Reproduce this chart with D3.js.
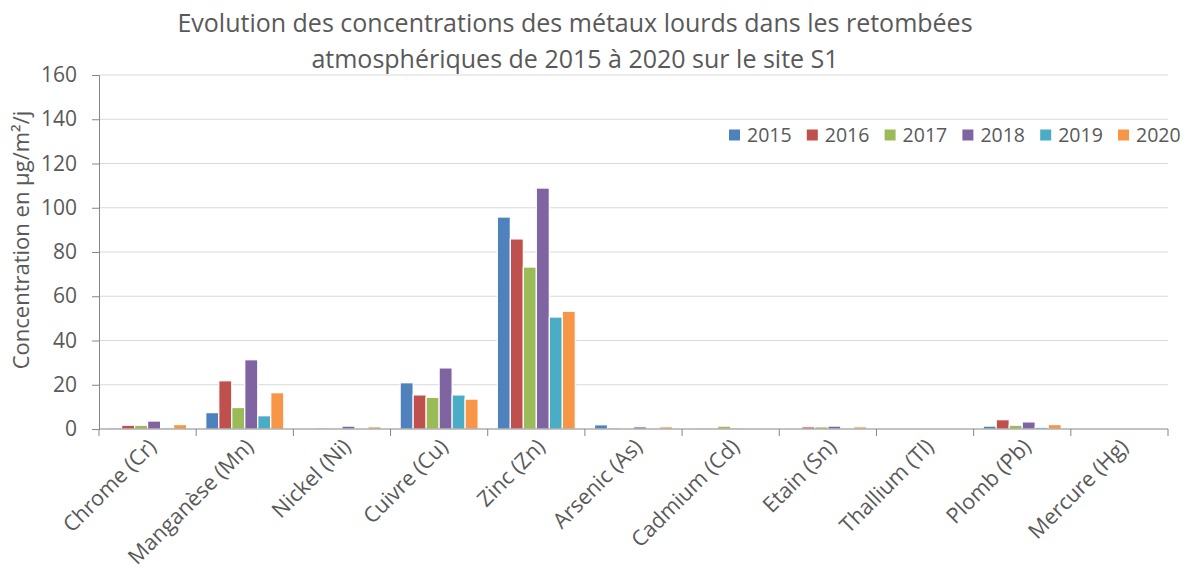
<!DOCTYPE html>
<html>
<head>
<meta charset="utf-8">
<script src="https://cdn.jsdelivr.net/npm/d3@7"></script>
<style>
  body { margin: 0; background: #fff; }
  svg { font-family: "Open Sans", Lato, sans-serif; }
</style>
</head>
<body>
<svg id="chart"></svg>
<script>
const metals = ["Chrome (Cr)", "Manganèse (Mn)", "Nickel (Ni)", "Cuivre (Cu)", "Zinc (Zn)",
  "Arsenic (As)", "Cadmium (Cd)", "Etain (Sn)", "Thallium (Tl)", "Plomb (Pb)", "Mercure (Hg)"];
const years = ["2015", "2016", "2017", "2018", "2019", "2020"];
const yTicks = [0, 20, 40, 60, 80, 100, 120, 140, 160];

// one array per year, in the order of metals
const v2015 = [0.6, 7.4, 0.2, 20.9, 95.8, 1.9, 0.1, 0.3, 0, 1.3, 0];
const v2016 = [1.7, 21.8, 0.6, 15.4, 85.9, 0.6, 0.1, 1.0, 0, 4.2, 0];
const v2017 = [1.7, 9.7, 0.5, 14.3, 73.2, 0.2, 1.3, 1.0, 0, 1.7, 0];
const v2018 = [3.6, 31.3, 1.3, 27.6, 108.9, 1.0, 0.1, 1.3, 0, 3.2, 0];
const v2019 = [0.6, 6.0, 0.2, 15.4, 50.6, 0.5, 0.1, 0.5, 0, 0.8, 0];
const v2020 = [2.0, 16.4, 1.0, 13.5, 53.2, 1.0, 0.1, 1.0, 0, 2.0, 0];
const series = [v2015, v2016, v2017, v2018, v2019, v2020];
const colors = ["#4F81BD", "#C0504D", "#9BBB59", "#8064A2", "#4BACC6", "#F79646"];

const width = 1187, height = 573;
const margin = { top: 75, right: 19, bottom: 144, left: 99 };
const innerWidth = width - margin.left - margin.right;
const innerHeight = height - margin.top - margin.bottom;
const textColor = "#595959";

const svg = d3.select("#chart").attr("width", width).attr("height", height);

// title
const title = svg.append("text")
  .attr("text-anchor", "middle")
  .attr("fill", textColor)
  .style("font-size", "25px");
title.append("tspan").attr("x", 575).attr("y", 32)
  .text("Evolution des concentrations des métaux lourds dans les retombées");
title.append("tspan").attr("x", 575).attr("y", 68)
  .text("atmosphériques de 2015 à 2020 sur le site S1");

const g = svg.append("g").attr("transform", `translate(${margin.left},${margin.top})`);

const x0 = d3.scaleBand().domain(metals).range([0, innerWidth]);
const x1 = d3.scaleBand().domain(years).range([9.6, x0.bandwidth() - 9.6]);
const y = d3.scaleLinear().domain([0, 160]).range([innerHeight, 0]);

// gridlines
g.append("g")
  .selectAll("line")
  .data(yTicks.slice(1))
  .join("line")
  .attr("x1", 0).attr("x2", innerWidth)
  .attr("y1", d => y(d)).attr("y2", d => y(d))
  .attr("stroke", "#d9d9d9").attr("stroke-width", 1);

// y axis
const yAxis = g.append("g")
  .call(d3.axisLeft(y).tickValues(yTicks).tickSize(7).tickPadding(15));
yAxis.select(".domain").attr("stroke", "#868686");
yAxis.selectAll(".tick line").attr("stroke", "#868686");
yAxis.selectAll(".tick text")
  .attr("fill", textColor)
  .style("font-size", "21px")
  .style("font-family", "'Open Sans', Lato, sans-serif");

g.append("text")
  .text("Concentration en µg/m²/j")
  .attr("transform", "rotate(-90)")
  .attr("x", -(240 - margin.top))
  .attr("y", -70)
  .attr("text-anchor", "middle")
  .attr("fill", textColor)
  .style("font-size", "22px");

// bars
const groups = g.append("g")
  .selectAll("g")
  .data(metals)
  .join("g")
  .attr("transform", d => `translate(${x0(d)},0)`);

groups.selectAll("rect")
  .data((m, i) => years.map((yr, k) => ({ year: yr, value: series[k][i], color: colors[k] })))
  .join("rect")
  .attr("x", d => x1(d.year))
  .attr("width", x1.bandwidth())
  .attr("y", d => y(d.value))
  .attr("height", d => innerHeight - y(d.value))
  .attr("fill", d => d.color)
  .attr("stroke", "#fff")
  .attr("stroke-width", 1.2);

// x axis
const xAxisG = g.append("g").attr("transform", `translate(0,${innerHeight})`);
xAxisG.append("line")
  .attr("x1", 0).attr("x2", innerWidth)
  .attr("stroke", "#868686");
xAxisG.selectAll(".sep")
  .data(d3.range(metals.length + 1))
  .join("line")
  .attr("class", "sep")
  .attr("x1", i => i * x0.bandwidth()).attr("x2", i => i * x0.bandwidth())
  .attr("y1", 0).attr("y2", 7)
  .attr("stroke", "#868686");
xAxisG.selectAll(".lbl")
  .data(metals)
  .join("text")
  .attr("class", "lbl")
  .attr("text-anchor", "end")
  .attr("fill", textColor)
  .style("font-size", "21.5px")
  .attr("transform", d => `translate(${x0(d) + x0.bandwidth() / 2 + 10},${19}) rotate(-45)`)
  .text(d => d);

// legend
const legend = svg.append("g").attr("transform", "translate(729,135)");
const items = legend.selectAll("g")
  .data(years)
  .join("g")
  .attr("transform", (d, i) => `translate(${i * 77.8},0)`);
items.append("rect")
  .attr("x", 0).attr("y", -5.5)
  .attr("width", 11).attr("height", 11)
  .attr("fill", (d, i) => colors[i]);
items.append("text")
  .attr("x", 18).attr("y", 0)
  .attr("dy", "0.35em")
  .attr("fill", textColor)
  .style("font-size", "19.5px")
  .text(d => d);
</script>
</body>
</html>
